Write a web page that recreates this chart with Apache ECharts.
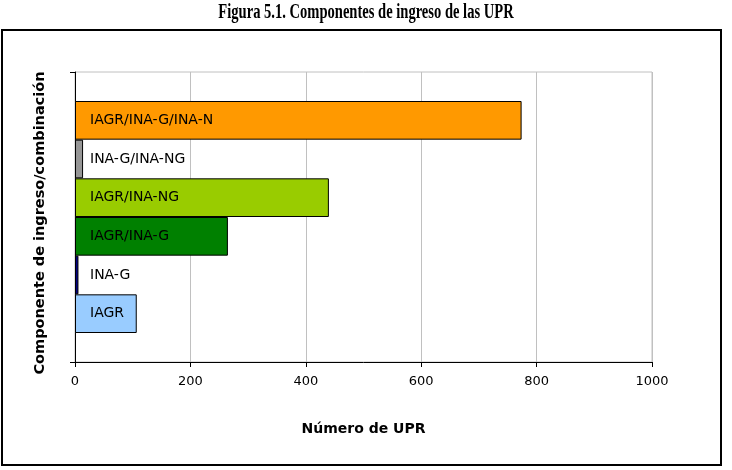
<!DOCTYPE html>
<html>
<head>
<meta charset="utf-8">
<script src="https://cdn.jsdelivr.net/npm/echarts@6/dist/echarts.min.js"></script>
<style>
  html, body { margin: 0; padding: 0; background: #fff; }
  #chart { width: 732px; height: 470px; }
</style>
</head>
<body>
<div id="chart"></div>
<script>
// datos (orden de arriba hacia abajo)
const categories = ['UPR']
const seriesNames = ['IAGR/INA-G/INA-NG', 'INA-G/INA-NG', 'IAGR/INA-NG', 'IAGR/INA-G', 'INA-G', 'IAGR']
const seriesValues = [774, 14, 440, 265, 6, 107]
const seriesColors = ['#FF9900', '#969696', '#99CC00', '#008000', '#000080', '#99CCFF']
const xTicks = [0, 200, 400, 600, 800, 1000]

const chart = echarts.init(document.getElementById('chart'))

const font = 'DejaVu Sans'

const series = seriesNames.map((name, i) => ({
  name: name,
  type: 'bar',
  barGap: '0%',
  barCategoryGap: '20%',
  data: [seriesValues[i]],
  itemStyle: {
    color: seriesColors[i],
    borderColor: '#000',
    borderWidth: 1
  },
  label: {
    show: true,
    position: 'insideLeft',
    distance: 15,
    formatter: name,
    color: '#000',
    fontFamily: font,
    fontSize: 14,
    width: 134,
    overflow: 'truncate',
    ellipsis: ''
  },
  emphasis: { disabled: true }
}))

const option = {
  animation: false,
  graphic: [
    {
      type: 'rect',
      shape: { x: 2, y: 30, width: 719, height: 435 },
      style: { fill: 'none', stroke: '#000', lineWidth: 2 },
      silent: true
    },
    {
      // titulo comprimido horizontalmente como en la figura
      type: 'text',
      x: 366,
      y: 13,
      scaleX: 0.71,
      silent: true,
      style: {
        text: 'Figura 5.1. Componentes de ingreso de las UPR',
        fontFamily: 'Liberation Serif',
        fontWeight: 'bold',
        fontSize: 20.5,
        fill: '#000',
        align: 'center',
        verticalAlign: 'middle'
      }
    }
  ],
  grid: {
    left: 75,
    right: 80,
    top: 72,
    bottom: 108,
    show: true,
    borderColor: '#c0c0c0',
    borderWidth: 1
  },
  xAxis: {
    type: 'value',
    min: xTicks[0],
    max: xTicks[xTicks.length - 1],
    interval: 200,
    name: 'Número de UPR',
    nameLocation: 'middle',
    nameGap: 60,
    nameTextStyle: {
      fontFamily: font,
      fontWeight: 'bold',
      fontSize: 14,
      color: '#000'
    },
    axisLine: { show: true, lineStyle: { color: '#000', width: 1 } },
    axisTick: { show: true, length: 5, lineStyle: { color: '#000' } },
    axisLabel: {
      fontFamily: font,
      fontSize: 13,
      color: '#000',
      margin: 13,
      formatter: v => String(v)
    },
    splitLine: { show: true, lineStyle: { color: '#c0c0c0', width: 1 } }
  },
  yAxis: {
    type: 'category',
    data: categories,
    name: 'Componente de ingreso/combinación',
    nameLocation: 'middle',
    nameRotate: 90,
    nameGap: 27,
    nameTextStyle: {
      fontFamily: font,
      fontWeight: 'bold',
      fontSize: 14.5,
      color: '#000',
      padding: [0, 12, 0, 0]
    },
    axisLine: { show: true, lineStyle: { color: '#000', width: 1 } },
    axisTick: { show: true, length: 5, lineStyle: { color: '#000' } },
    axisLabel: { show: false },
    splitLine: { show: false }
  },
  series: series
}

chart.setOption(option)
</script>
</body>
</html>
